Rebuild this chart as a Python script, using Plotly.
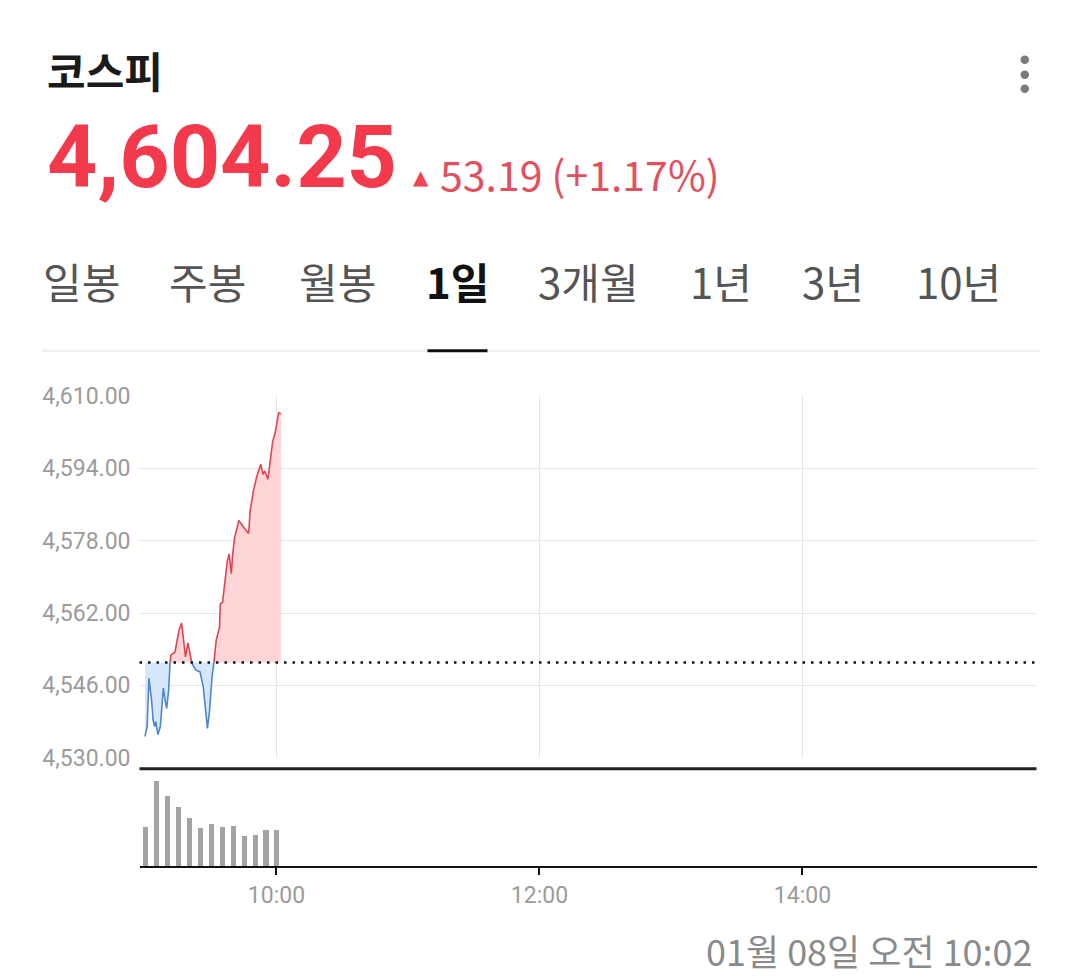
import plotly.graph_objects as go

# ---------------- data ----------------
index_name = "코스피"
current_value = 4604.25
change_value = 53.19
change_pct = 1.17
prev_close = 4551.06
timestamp_label = "01월 08일 오전 10:02"

# minutes since 09:00 and index level
minutes = [0.0, 1.0, 1.8, 3.0, 3.7, 4.4, 4.9, 5.9, 7.0, 8.4, 9.3, 9.9, 10.8, 11.4,
           11.8, 13.7, 14.7, 15.5, 16.7, 17.7, 18.5, 19.6, 20.7, 21.4, 23.2, 25.1,
           26.6, 27.8, 28.5, 29.5, 30.6, 31.4, 32.5, 34.0, 34.4, 35.4, 36.5, 37.6,
           38.4, 39.4, 39.9, 40.9, 42.1, 42.8, 45.0, 46.5, 47.3, 48.0, 49.5, 50.9,
           52.8, 53.9, 54.6, 56.1, 57.3, 58.3, 59.3, 60.2, 61.0, 62.0]
prices = [4534.7, 4536.9, 4547.6, 4542.8, 4538.4, 4536.9, 4538.0, 4535.1, 4536.9,
          4545.4, 4542.4, 4540.9, 4545.0, 4550.9, 4552.7, 4553.4, 4556.0, 4558.2,
          4559.8, 4556.0, 4552.3, 4555.4, 4553.1, 4550.9, 4549.4, 4549.0, 4545.7,
          4539.8, 4536.5, 4540.6, 4547.9, 4550.9, 4556.0, 4558.9, 4564.1, 4564.4,
          4569.2, 4573.6, 4575.1, 4570.7, 4574.4, 4578.8, 4581.0, 4582.5, 4581.0,
          4580.2, 4579.6, 4584.7, 4589.1, 4592.0, 4594.9, 4592.7, 4593.5, 4591.6,
          4596.4, 4600.1, 4601.6, 4603.8, 4606.3, 4606.1]

vol_minutes = [0, 5, 10, 15, 20, 25, 30, 35, 40, 45, 50, 55, 60]
volumes = [40, 86, 71, 60, 49, 39, 43, 40, 41, 31, 32, 37, 37]

price_ticks = [4530, 4546, 4562, 4578, 4594, 4610]
time_ticks = [60, 180, 300]
time_labels = ["10:00", "12:00", "14:00"]
tabs = ["일봉", "주봉", "월봉", "1일", "3개월", "1년", "3년", "10년"]
active_tab = "1일"

# ---------------- layout helpers ----------------
W, H = 1079, 977
SX_B = 8.5
SY_A, SY_B = 0.977, 17.5

def px(x):
    return (x - SX_B) / W

def py(y):
    return 1 - ((y - SY_B) / SY_A) / H

RED_LINE = "#e2444f"
BLUE_LINE = "#4f86cf"
RED_FILL = "#ffd5d8"
BLUE_FILL = "#d6e7fa"
CJK = "Noto Sans CJK KR"

# insert baseline crossings so colours switch exactly at prev_close
t_all, p_all = [], []
for i in range(len(minutes)):
    if i > 0:
        a, b = prices[i - 1] - prev_close, prices[i] - prev_close
        if a * b < 0:
            f = a / (a - b)
            t_all.append(minutes[i - 1] + f * (minutes[i] - minutes[i - 1]))
            p_all.append(prev_close)
    t_all.append(minutes[i])
    p_all.append(prices[i])

above = [max(p, prev_close) for p in p_all]
below = [min(p, prev_close) for p in p_all]
red_line = [p if p >= prev_close else None for p in p_all]
blue_line = [p if p <= prev_close else None for p in p_all]
base = [prev_close] * len(t_all)

fig = go.Figure()
fig.add_trace(go.Scatter(x=t_all, y=base, mode="lines", line=dict(width=0),
                         showlegend=False, hoverinfo="skip"))
fig.add_trace(go.Scatter(x=t_all, y=above, mode="lines", line=dict(width=0),
                         fill="tonexty", fillcolor=RED_FILL, showlegend=False, hoverinfo="skip"))
fig.add_trace(go.Scatter(x=t_all, y=base, mode="lines", line=dict(width=0),
                         showlegend=False, hoverinfo="skip"))
fig.add_trace(go.Scatter(x=t_all, y=below, mode="lines", line=dict(width=0),
                         fill="tonexty", fillcolor=BLUE_FILL, showlegend=False, hoverinfo="skip"))
fig.add_trace(go.Scatter(x=t_all, y=red_line, mode="lines", connectgaps=False,
                         line=dict(color=RED_LINE, width=1.6), showlegend=False))
fig.add_trace(go.Scatter(x=t_all, y=blue_line, mode="lines", connectgaps=False,
                         line=dict(color=BLUE_LINE, width=1.6), showlegend=False))

fig.add_trace(go.Bar(x=vol_minutes, y=volumes, width=2.3,
                     marker=dict(color="#a3a3a3", line=dict(width=0)),
                     xaxis="x2", yaxis="y2", showlegend=False))

x_dom = [px(140), px(1037)]
x_range = [-2.5, 406.8]
tick_font = dict(family="Roboto", size=23, color="#9b9b9b")

fig.update_layout(
    width=W, height=H,
    margin=dict(l=0, r=0, t=0, b=0),
    paper_bgcolor="white", plot_bgcolor="white",
    xaxis=dict(domain=x_dom, range=x_range, tickvals=time_ticks, showticklabels=False,
               showgrid=True, gridcolor="#e6e6e6", gridwidth=1, zeroline=False, showline=False,
               ticks=""),
    yaxis=dict(domain=[py(758.45), py(394.55)], range=[4529.9, 4610.1], tickvals=price_ticks,
               ticktext=[f"{v:,.2f}" for v in price_ticks],
               showgrid=True, gridcolor="#e6e6e6", gridwidth=1, zeroline=False, showline=False,
               ticks="", ticklabelstandoff=8, tickfont=tick_font),
    xaxis2=dict(domain=x_dom, range=x_range, anchor="y2", tickvals=time_ticks, ticktext=time_labels,
                showgrid=False, zeroline=False, showline=True, linecolor="#111", linewidth=2,
                ticks="outside", ticklen=7, tickwidth=2, tickcolor="#111", tickfont=tick_font),
    yaxis2=dict(domain=[py(867), py(770)], range=[0, 97], showgrid=False, zeroline=False,
                showticklabels=False, showline=False, ticks=""),
    bargap=0,
)

shapes = []
# previous close dotted line
shapes.append(dict(type="line", xref="x domain", yref="y", x0=0, x1=1, y0=prev_close, y1=prev_close,
                   line=dict(color="#111", width=2.5, dash="2.5px,6px")))
# thick separator above volume panel
shapes.append(dict(type="line", xref="paper", yref="paper", x0=px(140), x1=px(1037),
                   y0=py(769), y1=py(769), line=dict(color="#222", width=3)))
# tab separator
shapes.append(dict(type="line", xref="paper", yref="paper", x0=px(42), x1=px(1040),
                   y0=py(349.5), y1=py(349.5), line=dict(color="#eeeeee", width=2)))
# active tab underline
shapes.append(dict(type="line", xref="paper", yref="paper", x0=px(428), x1=px(488),
                   y0=py(349.5), y1=py(349.5), line=dict(color="#111", width=3)))
# menu dots
for cy in [57.5, 72.5, 86.5]:
    shapes.append(dict(type="circle", xref="paper", yref="paper",
                       x0=px(1021), x1=px(1029.5), y0=py(cy + 4.25), y1=py(cy - 4.25),
                       fillcolor="#7a7a7a", line=dict(width=0)))
fig.update_layout(shapes=shapes)

ann = []
ann.append(dict(text=f"<b>{index_name}</b>", x=px(45.5), y=py(67.5), xref="paper", yref="paper",
                xanchor="left", yanchor="middle", showarrow=False,
                font=dict(family=CJK, size=42, color="#1a1a1a")))
ann.append(dict(text=f"<b>{current_value:,.2f}</b>", x=px(45.5), y=py(155), xref="paper", yref="paper",
                xanchor="left", yanchor="middle", showarrow=False,
                font=dict(family="Roboto", size=88, color="#f23a4c")))
ann.append(dict(text="▲", x=px(411), y=py(175), xref="paper", yref="paper",
                xanchor="left", yanchor="middle", showarrow=False,
                font=dict(family="DejaVu Sans", size=20, color="#ea4656")))
ann.append(dict(text=f"{change_value:.2f} (+{change_pct:.2f}%)", x=px(438.5), y=py(171.5),
                xref="paper", yref="paper", xanchor="left", yanchor="middle", showarrow=False,
                font=dict(family=CJK, size=41, color="#e2505e")))

tab_x_px = [81.5, 207.5, 337.5, 458, 588.5, 721, 833.5, 959]
for label, xc in zip(tabs, tab_x_px):
    active = label == active_tab
    ann.append(dict(text=f"<b>{label}</b>" if active else label, x=px(xc), y=py(278.7),
                    xref="paper", yref="paper", xanchor="center", yanchor="middle", showarrow=False,
                    font=dict(family=CJK, size=42, color="#111" if active else "#555")))

ann.append(dict(text=timestamp_label, x=px(1035.5), y=py(951), xref="paper", yref="paper",
                xanchor="right", yanchor="middle", showarrow=False,
                font=dict(family=CJK, size=36, color="#8a8a8a")))
fig.update_layout(annotations=ann)

fig.write_html("out.html")
